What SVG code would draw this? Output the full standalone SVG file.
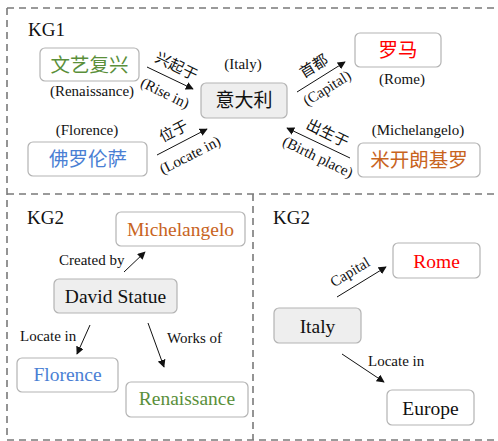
<svg xmlns="http://www.w3.org/2000/svg" width="498" height="441" viewBox="0 0 498 441">
<defs>
<marker id="ah" viewBox="0 0 10 10" refX="9" refY="5" markerWidth="8" markerHeight="8" markerUnits="userSpaceOnUse" orient="auto">
<path d="M0,0 L10,5 L0,10 z" fill="#111"/>
</marker>
<style>
.frame{fill:none;stroke:#7a7a7a;stroke-width:1.6;stroke-dasharray:7 5}
.box{fill:#fff;stroke:#b3b3b3;stroke-width:1.2}
.gbox{fill:#eeeeee;stroke:#b3b3b3;stroke-width:1.2}
.edge{stroke:#111;stroke-width:1;fill:none;marker-end:url(#ah)}
.t{text-anchor:middle}
</style>
</defs>
<rect width="498" height="441" fill="#fff"/>
<g id="frames">
<path class="frame" d="M7,8 H498 M7,8 V440 M7,194 H498 M253,194 V440 M7,440 H498"/>
</g>
<g id="titles" font-family="'Liberation Serif', 'DejaVu Serif', serif" fill="#111">
<text x="28" y="36" font-size="19">KG1</text>
<text x="27" y="224" font-size="19">KG2</text>
<text x="273" y="224" font-size="19">KG2</text>
</g>
<g id="connectors">
<line class="edge" x1="147" y1="67" x2="193" y2="89"/>
<line class="edge" x1="157" y1="155" x2="207" y2="129"/>
<line class="edge" x1="297" y1="92" x2="345" y2="62"/>
<line class="edge" x1="350" y1="158" x2="287" y2="128"/>
<line class="edge" x1="124" y1="272" x2="145" y2="252"/>
<line class="edge" x1="90" y1="325" x2="77" y2="354"/>
<line class="edge" x1="148" y1="323" x2="164" y2="367"/>
<line class="edge" x1="337" y1="297" x2="386" y2="267"/>
<line class="edge" x1="342" y1="354" x2="384" y2="382"/>
<g font-size="15" fill="#111" font-family="'Noto Sans CJK SC', sans-serif">
<text class="t" transform="translate(177,65) rotate(26)" dominant-baseline="central">兴起于</text>
<text class="t" transform="translate(173,130) rotate(-27)" dominant-baseline="central">位于</text>
<text class="t" transform="translate(313,65) rotate(-32)" dominant-baseline="central">首都</text>
<text class="t" transform="translate(328,132) rotate(26)" dominant-baseline="central">出生于</text>
</g>
<g font-size="15" fill="#111" font-family="'Liberation Serif', 'DejaVu Serif', serif">
<text class="t" transform="translate(165,93) rotate(26)" dominant-baseline="central">(Rise in)</text>
<text class="t" transform="translate(190,155) rotate(-27)" dominant-baseline="central">(Locate in)</text>
<text class="t" transform="translate(327,88) rotate(-32)" dominant-baseline="central">(Capital)</text>
<text class="t" transform="translate(318,157) rotate(26)" dominant-baseline="central">(Birth place)</text>
<text x="59" y="265">Created by</text>
<text x="20" y="341">Locate in</text>
<text x="167" y="343">Works of</text>
<text class="t" transform="translate(350,272) rotate(-31)" dominant-baseline="central">Capital</text>
<text x="368" y="366">Locate in</text>
</g>
</g>
<g id="n-wenyi">
<rect class="box" x="40" y="48" width="99" height="33" rx="5"/>
<text class="t" x="89.5" y="72" font-size="19.5" font-family="'Noto Sans CJK SC', sans-serif" fill="#5a8f3a">文艺复兴</text>
<text class="t" x="92" y="96" font-size="15" font-family="'Liberation Serif', serif" fill="#111">(Renaissance)</text>
</g>
<g id="n-foluo">
<text class="t" x="87" y="135" font-size="15" font-family="'Liberation Serif', serif" fill="#111">(Florence)</text>
<rect class="box" x="28" y="142" width="119" height="34" rx="5"/>
<text class="t" x="88" y="166" font-size="19.5" font-family="'Noto Sans CJK SC', sans-serif" fill="#4a7fd4">佛罗伦萨</text>
</g>
<g id="n-yidali">
<text class="t" x="243" y="69" font-size="15" font-family="'Liberation Serif', serif" fill="#111">(Italy)</text>
<rect class="gbox" x="201" y="83" width="86" height="35" rx="5"/>
<text class="t" x="244" y="107" font-size="19" font-family="'Noto Sans CJK SC', sans-serif" fill="#111">意大利</text>
</g>
<g id="n-luoma">
<rect class="box" x="355" y="33" width="86" height="34" rx="5"/>
<text class="t" x="398" y="57" font-size="19.5" font-family="'Noto Sans CJK SC', sans-serif" fill="#ff0000">罗马</text>
<text class="t" x="402" y="84" font-size="15" font-family="'Liberation Serif', serif" fill="#111">(Rome)</text>
</g>
<g id="n-mikai">
<text class="t" x="418" y="135" font-size="15" font-family="'Liberation Serif', serif" fill="#111">(Michelangelo)</text>
<rect class="box" x="358" y="143" width="122" height="34" rx="5"/>
<text class="t" x="419" y="167" font-size="19.5" font-family="'Noto Sans CJK SC', sans-serif" fill="#c8641e">米开朗基罗</text>
</g>
<g id="n-michelangelo">
<rect class="box" x="116" y="212" width="129" height="34" rx="5"/>
<text class="t" x="180.5" y="236" font-size="19.5" font-family="'Liberation Serif', serif" fill="#c8641e">Michelangelo</text>
</g>
<g id="n-david">
<rect class="gbox" x="54" y="279" width="123" height="34" rx="5"/>
<text class="t" x="115.5" y="303" font-size="19.5" font-family="'Liberation Serif', serif" fill="#111">David Statue</text>
</g>
<g id="n-florence">
<rect class="box" x="17" y="358" width="101" height="34" rx="5"/>
<text class="t" x="67.5" y="381" font-size="19.5" font-family="'Liberation Serif', serif" fill="#4a7fd4">Florence</text>
</g>
<g id="n-renaissance">
<rect class="box" x="126" y="382" width="122" height="35" rx="5"/>
<text class="t" x="187" y="405" font-size="19.5" font-family="'Liberation Serif', serif" fill="#5a8f3a">Renaissance</text>
</g>
<g id="n-rome">
<rect class="box" x="393" y="243" width="87" height="35" rx="5"/>
<text class="t" x="436.5" y="268" font-size="19.5" font-family="'Liberation Serif', serif" fill="#ff0000">Rome</text>
</g>
<g id="n-italy">
<rect class="gbox" x="274" y="308" width="87" height="35" rx="5"/>
<text class="t" x="317.5" y="333" font-size="19.5" font-family="'Liberation Serif', serif" fill="#111">Italy</text>
</g>
<g id="n-europe">
<rect class="box" x="387" y="390" width="87" height="35" rx="5"/>
<text class="t" x="430.5" y="415" font-size="19.5" font-family="'Liberation Serif', serif" fill="#111">Europe</text>
</g>
</svg>
